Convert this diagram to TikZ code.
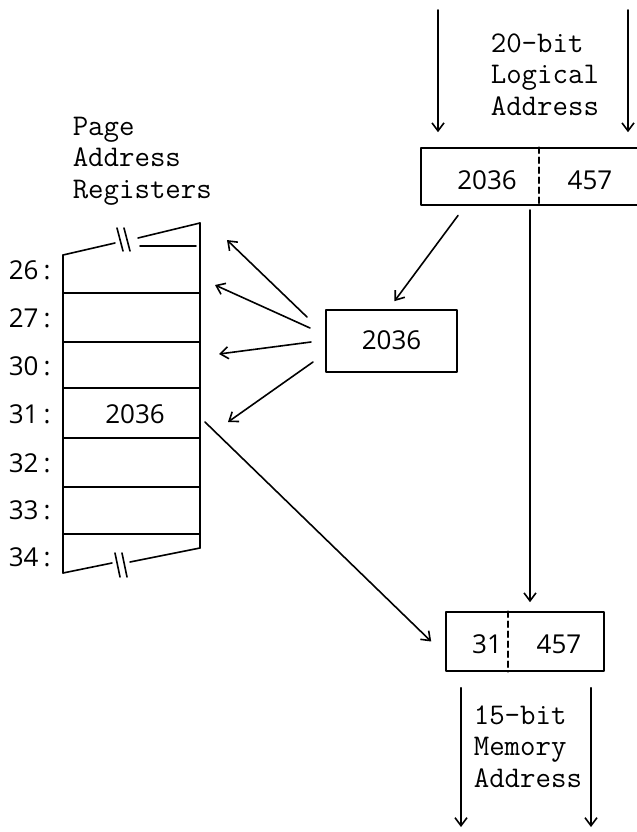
\documentclass[tikz,border=0pt]{standalone}
\usepackage{fontspec}
\newfontfamily\numfont{Open Sans}
\usetikzlibrary{arrows.meta}
\tikzset{
  lbl/.style={font=\ttfamily\fontsize{15}{15.75}\selectfont, align=left, inner sep=0pt, anchor=base west},
  num/.style={font=\numfont\fontsize{13}{15}\selectfont, inner sep=0pt, anchor=base},
  box/.style={draw, inner sep=0pt},
  divider/.style={dash pattern=on 3pt off 2pt},
}
\begin{document}
\begin{tikzpicture}[x=.5pt,y=-.5pt,>={Straight Barb[length=4pt,width=6pt]},line width=.8pt,line join=round,line cap=round]
\clip (0,0) rectangle (637,832);
% texts (base = last line)
\node[lbl] (pagelbl) at (72,198) {Page\\Address\\Registers};
\node[lbl] (loglbl) at (490,115) {20-bit\\Logical\\Address};
\node[lbl] (memlbl) at (473,787) {15-bit\\Memory\\Address};
% boxes
\node[box,minimum width=119.5pt,minimum height=28.5pt] (logaddr) at (540.5,176.5) {};
\draw[divider] ([xshift=-.75pt]logaddr.north)--([xshift=-.75pt]logaddr.south);
\node[num] (logpage) at (487,189) {2036};
\node[num] (logoff) at (590,189) {457};
\node[box,minimum width=65.5pt,minimum height=31pt] (page) at (391.5,341) {};
\node[num] (pagenum) at (391.5,349) {2036};
\node[box,minimum width=79pt,minimum height=29.5pt] (memaddr) at (525,641.5) {};
\draw[divider] ([xshift=-8.5pt]memaddr.north)--([xshift=-8.5pt]memaddr.south);
\node[num] (mempage) at (487,653) {31};
\node[num] (memoff) at (559,653) {457};
% register stack
\draw (63,255)--(63,573) (200,223)--(200,548);
\draw (63,255)--(115,243) (138,238)--(200,223) (140,246)--(196,246) (117,228)--(123,251) (124,228)--(130,251);
\draw (63,573)--(112,563) (130,562)--(200,548) (115,553)--(120,577) (122,553)--(127,577);
\foreach \y in {293,342,388,438,487,534}\draw (63,\y)--(200,\y);
\foreach \n/\y in {26/279,27/327,30/375,31/423,32/472,33/519,34/566}\node[num,anchor=base west] (r\n) at (8,\y) {\n\kern2.5pt:};
\node[num] (reg31) at (135,423) {2036};
% arrows
\coordinate (in1) at (438,10);
\coordinate (in2) at (628,10);
\draw[->,shorten >=7.5pt] (in1)--(in1 |- logaddr.north);
\draw[->,shorten >=7.5pt] (in2)--(in2 |- logaddr.north);
\draw[->,shorten <=6pt,shorten >=5pt] ([xshift=22.5pt]logaddr.south west)--([xshift=-1.5pt]page.north);
\foreach \i/\sx/\sy/\ex/\ey in {1/307/317/227/240,2/310/328/215/285,3/311/342/219/354,4/313/362/228/422}{
  \coordinate (fs\i) at (\sx,\sy);
  \coordinate (fe\i) at (\ex,\ey);
  \draw[->] (fs\i)--(fe\i);
}
\coordinate (vin) at (530,210);
\draw[->,shorten >=4.5pt] (vin)--(vin |- memaddr.north);
\coordinate (r31out) at (205,422);
\draw[->] (r31out)--([xshift=-7pt]memaddr.west);
\coordinate (out1) at (461,827);
\coordinate (out2) at (591,827);
\draw[->,shorten <=8pt] (out1 |- memaddr.south)--(out1);
\draw[->,shorten <=8pt] (out2 |- memaddr.south)--(out2);
\end{tikzpicture}
\end{document}
